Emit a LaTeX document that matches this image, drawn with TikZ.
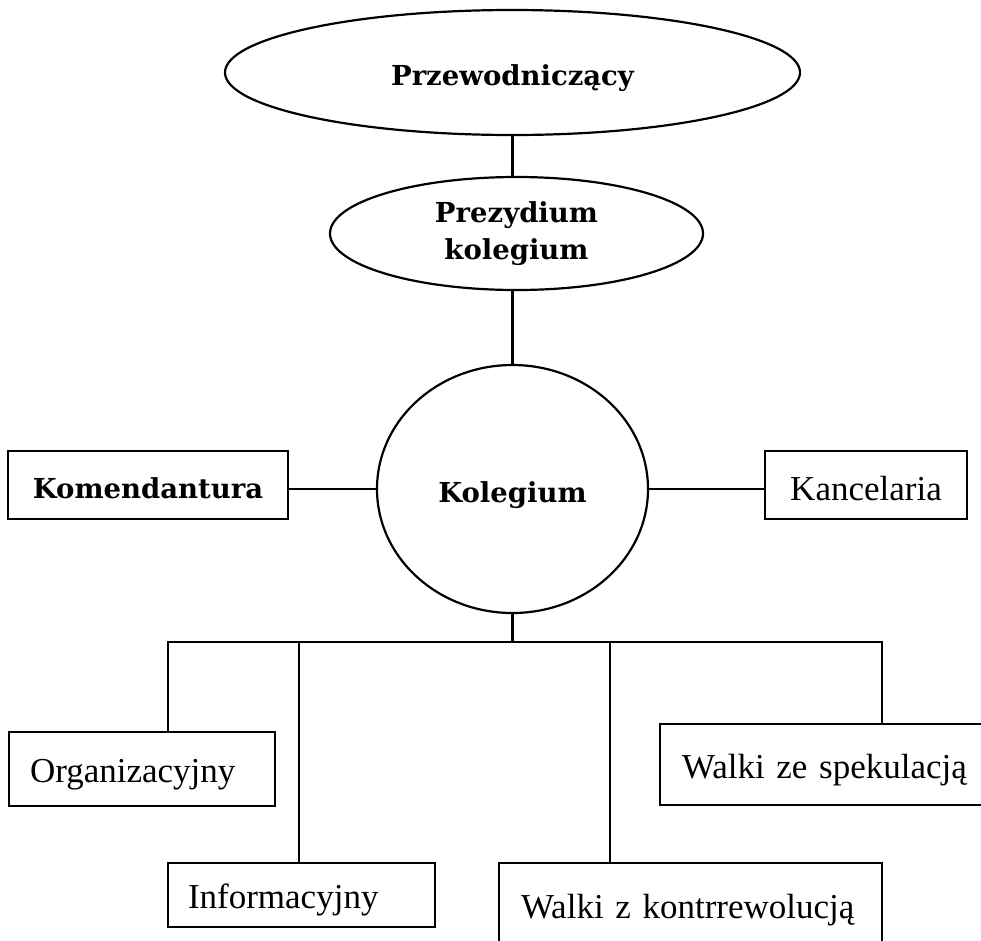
\documentclass[tikz,border=0pt]{standalone}
\usepackage{fontspec}
\setmainfont{Liberation Serif}[WordSpace=0.7]
\newfontfamily\hdfont{DejaVu Serif}
\usetikzlibrary{shapes.geometric}
\tikzset{
  ell/.style={draw, ellipse, line width=2.2pt, inner sep=0pt, align=center,
    font=\hdfont\bfseries\fontsize{27.5}{37}\selectfont},
  cbox/.style={draw, rectangle, line width=2.6pt, inner sep=0pt, align=center,
    text height=26pt, text depth=0pt,
    font=\hdfont\bfseries\fontsize{27.5}{37}\selectfont},
  cboxn/.style={draw, rectangle, line width=2.6pt, inner sep=0pt, align=center,
    text height=30pt, text depth=0pt,
    font=\fontsize{35}{42}\selectfont},
  lbox/.style={draw, rectangle, line width=2.6pt, inner ysep=0pt, align=left,
    text height=27pt, text depth=0pt,
    font=\fontsize{35}{42}\selectfont},
  conn/.style={line width=2.2pt}
}
\begin{document}
\begin{tikzpicture}[x=1pt,y=-1pt]
\useasboundingbox (0,0) rectangle (981,940);
\clip (0,0) rectangle (981,940);
\node[ell, text height=26pt, text depth=0pt, minimum width=575pt, minimum height=125pt] (prz) at (512.5,72.5) {Przewodniczący};
\node[ell, minimum width=373pt, minimum height=113pt] (prez) at (516.5,233.5) {Prezydium\\kolegium};
\node[ell, text height=27pt, text depth=0pt, minimum width=271pt, minimum height=248pt] (kol) at (512.5,489) {Kolegium};
\node[cbox, minimum width=280pt, minimum height=68pt] (kom) at (148,485) {Komendantura};
\node[cboxn, minimum width=202pt, minimum height=68pt] (kan) at (866,485) {Kancelaria};
\node[lbox, inner xsep=21pt, text width=224pt, minimum height=74pt] (org) at (142,769) {Organizacyjny};
\node[lbox, inner xsep=20pt, text width=227pt, minimum height=64pt] (inf) at (301.5,895) {Informacyjny};
\node[lbox, inner xsep=22pt, text width=339pt, minimum height=84pt] (kon) at (690.5,905) {Walki z kontrrewolucją};
\node[lbox, inner xsep=22pt, text width=296pt, minimum height=81pt] (spek) at (830,764.5) {Walki ze spekulacją};
\coordinate (b) at (512.5,642);
\draw[conn] (prz.south) -- (prz.south |- prez.north);
\draw[conn] (kol.north |- prez.south) -- (kol.north);
\draw[conn] (kom.east |- kol.west) -- (kol.west);
\draw[conn] (kol.east) -- (kol.east -| kan.west);
\draw[conn] (kol.south) -- (b);
\draw[conn] ([xshift=26pt]org.north) |- (b) -| ([xshift=52pt]spek.north);
\draw[conn] ([xshift=-2.5pt]inf.north) -- ([xshift=-2.5pt]inf.north |- b);
\draw[conn] ([xshift=-80.5pt]kon.north) -- ([xshift=-80.5pt]kon.north |- b);
\end{tikzpicture}
\end{document}
